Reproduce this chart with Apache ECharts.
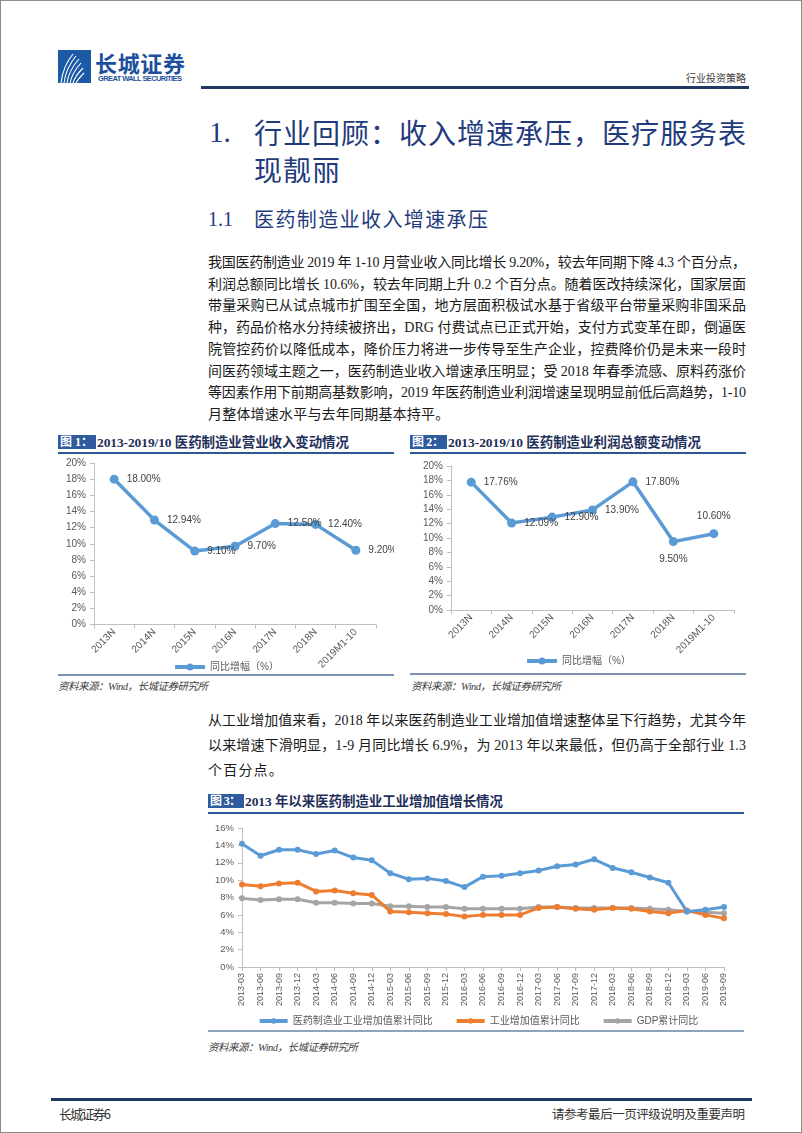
<!DOCTYPE html>
<html><head><meta charset="utf-8">
<script src="https://cdn.jsdelivr.net/npm/echarts@6/dist/echarts.min.js"></script>
<style>
html,body{margin:0;padding:0;background:#fff;}
#page{position:relative;width:802px;height:1133px;box-sizing:border-box;border:1px solid #8c8c8c;overflow:hidden;font-family:"Liberation Serif","Noto Sans CJK SC",serif;color:#1a1a1a;}
.t{position:absolute;white-space:nowrap;}
.rule{position:absolute;}
.chart{position:absolute;}
</style></head>
<body><div id="page">
<svg class="rule" style="left:57px;top:49px" width="33" height="33" viewBox="0 0 33 33">
  <rect x="0" y="0" width="33" height="33" fill="#1d5aa6"/>
  <g fill="none" stroke="#ffffff" stroke-width="1.1">
    <path d="M3 33 Q5 16 15 4"/>
    <path d="M6 33 Q8 18 18 6"/>
    <path d="M9 33 Q11 20 21 9"/>
    <path d="M12 33 Q14 23 23 13"/>
    <path d="M15 33 Q17 26 25 18"/>
    <path d="M18 33 Q20 29 26 23"/>
  </g>
</svg>
<div class="rule" style="left:200px;top:85px;width:548px;height:3px;background:#1f3864"></div>
<div class="rule" style="left:57px;top:451px;width:336px;height:2px;background:#2f5597"></div>
<div class="rule" style="left:409px;top:451px;width:336px;height:2px;background:#2f5597"></div>
<div class="rule" style="left:57px;top:673px;width:336px;height:2px;background:#7d92b3"></div>
<div class="rule" style="left:409px;top:672px;width:336px;height:2px;background:#7d92b3"></div>
<div class="rule" style="left:207px;top:811px;width:536px;height:2px;background:#2f5597"></div>
<div class="rule" style="left:207px;top:1029px;width:536px;height:2px;background:#8fa3bd"></div>
<div class="rule" style="left:50px;top:1097px;width:701px;height:3px;background:#1f3864"></div>
<div class="rule" style="left:57px;top:434px;width:38px;height:14px;background:#2e5c9e"></div>
<div class="rule" style="left:409px;top:434px;width:37px;height:14px;background:#2e5c9e"></div>
<div class="rule" style="left:207px;top:793px;width:36px;height:14px;background:#2e5c9e"></div>
<div id="c1" class="chart" style="left:57px;top:455px;width:336px;height:216px"></div>
<div id="c2" class="chart" style="left:409px;top:455px;width:336px;height:216px"></div>
<div id="c3" class="chart" style="left:207px;top:815px;width:540px;height:214px"></div>
</div>
<script>
// ---------- data ----------
const years = ['2013N','2014N','2015N','2016N','2017N','2018N','2019M1-10'];
const revenueGrowth = [18.00, 12.94, 9.10, 9.70, 12.50, 12.40, 9.20];
const profitGrowth  = [17.76, 12.09, 12.90, 13.90, 17.80, 9.50, 10.60];
const quarters = ['2013-03','2013-06','2013-09','2013-12','2014-03','2014-06','2014-09','2014-12',
  '2015-03','2015-06','2015-09','2015-12','2016-03','2016-06','2016-09','2016-12',
  '2017-03','2017-06','2017-09','2017-12','2018-03','2018-06','2018-09','2018-12',
  '2019-03','2019-06','2019-09'];
const pharmaVA   = [14.2,12.8,13.5,13.5,13.0,13.4,12.6,12.3,10.8,10.1,10.2,9.9,9.2,10.4,10.5,10.8,11.1,11.6,11.8,12.4,11.4,10.9,10.3,9.7,6.4,6.6,6.9];
const industryVA = [9.5,9.3,9.6,9.7,8.7,8.8,8.5,8.3,6.4,6.3,6.2,6.1,5.8,6.0,6.0,6.0,6.8,6.9,6.7,6.6,6.8,6.7,6.4,6.2,6.5,6.0,5.6];
const gdpGrowth  = [7.9,7.7,7.8,7.8,7.4,7.4,7.3,7.3,7.0,7.0,6.9,6.9,6.7,6.7,6.7,6.7,6.9,6.9,6.8,6.8,6.8,6.8,6.7,6.6,6.4,6.3,6.2];
const seriesNames1 = ['同比增幅（%）'];
const seriesNames3 = ['医药制造业工业增加值累计同比','工业增加值累计同比','GDP累计同比'];

// ---------- text ----------
const page = document.getElementById('page');
function fit(d, w){
  d.style.letterSpacing = '0px';
  const nat = d.getBoundingClientRect().width;
  const n = Array.from(d.textContent).length;
  if (n > 1) d.style.letterSpacing = ((w - nat)/(n-1)) + 'px';
}
function txt(s, x, cy, fs, o){
  o = o || {};
  const d = document.createElement('div');
  d.className = 't';
  d.textContent = s;
  const lh = Math.round(fs*1.4);
  d.style.cssText = 'left:'+x+'px;top:'+(cy-lh/2)+'px;font-size:'+fs+'px;line-height:'+lh+'px;'+(o.css||'');
  page.appendChild(d);
  if (o.w) fit(d, o.w);
  if (o.ls !== undefined) d.style.letterSpacing = o.ls + 'px';
  return d;
}
const SANS = 'font-family:"Noto Sans CJK SC",sans-serif;';
// header
txt('长城证券', 94, 61, 22, {w:90, css:SANS+'font-weight:bold;color:#1e4f9c;'});
txt('GREAT WALL SECURITIES', 97, 77, 7.5, {w:84, css:'font-family:"Liberation Sans",sans-serif;font-weight:bold;color:#1e4f9c;'});
txt('行业投资策略', 685, 77, 10, {w:60, css:SANS+'color:#404040;'});
// headings
const H1C = 'color:#1f3b7c;';
txt('1.', 208, 131, 29, {css:H1C});
const h1 = txt('行业回顾：收入增速承压，医疗服务表', 253, 131, 28, {w:492, css:SANS+H1C});
txt('现靓丽', 253, 168, 28, {ls:parseFloat(h1.style.letterSpacing), css:SANS+H1C});
txt('1.1', 207, 218, 20, {css:H1C});
txt('医药制造业收入增速承压', 253, 218, 20, {w:234, css:SANS+H1C});
// paragraph 1
const para1 = [
 '我国医药制造业 2019 年 1-10 月营业收入同比增长 9.20%，较去年同期下降 4.3 个百分点，',
 '利润总额同比增长 10.6%，较去年同期上升 0.2 个百分点。随着医改持续深化，国家层面',
 '带量采购已从试点城市扩围至全国，地方层面积极试水基于省级平台带量采购非国采品',
 '种，药品价格水分持续被挤出，DRG 付费试点已正式开始，支付方式变革在即，倒逼医',
 '院管控药价以降低成本，降价压力将进一步传导至生产企业，控费降价仍是未来一段时',
 '间医药领域主题之一，医药制造业收入增速承压明显；受 2018 年春季流感、原料药涨价',
 '等因素作用下前期高基数影响，2019 年医药制造业利润增速呈现明显前低后高趋势，1-10',
 '月整体增速水平与去年同期基本持平。'
];
para1.forEach((s,i)=>{
  txt(s, 207, 262 + i*21.7, 14, i < para1.length-1 ? {w:538} : {ls:0.2});
});
const para2 = [
 '从工业增加值来看，2018 年以来医药制造业工业增加值增速整体呈下行趋势，尤其今年',
 '以来增速下滑明显，1-9 月同比增长 6.9%，为 2013 年以来最低，但仍高于全部行业 1.3',
 '个百分点。'
];
para2.forEach((s,i)=>{
  txt(s, 207, 720 + i*25, 14, i < para2.length-1 ? {w:538} : {ls:1.2});
});
// figure titles
const FT = 'font-weight:bold;color:#1f2f5a;';
txt('图 1：', 59, 441, 12, {w:33, css:'font-weight:bold;color:#fff;'});
txt('2013-2019/10 医药制造业营业收入变动情况', 96, 441, 13.5, {w:252, css:FT});
txt('图 2：', 411, 441, 12, {w:32, css:'font-weight:bold;color:#fff;'});
txt('2013-2019/10 医药制造业利润总额变动情况', 447, 441, 13.5, {w:253, css:FT});
txt('图 3：', 209, 800, 12, {w:31, css:'font-weight:bold;color:#fff;'});
txt('2013 年以来医药制造业工业增加值增长情况', 244, 800, 13.5, {w:258, css:FT});
// sources
const SRC = 'font-style:italic;color:#404040;';
txt('资料来源：Wind，长城证券研究所', 57, 685, 10.5, {w:150, css:SRC});
txt('资料来源：Wind，长城证券研究所', 410, 685, 10.5, {w:150, css:SRC});
txt('资料来源：Wind，长城证券研究所', 207, 1046, 10.5, {w:150, css:SRC});
// footer
txt('长城证券6', 58, 1113, 13, {w:52, css:SANS+'color:#333;'});
txt('请参考最后一页评级说明及重要声明', 551, 1113, 12.5, {w:193, css:SANS+'color:#333;'});

// ---------- charts ----------
const AX = '#bfbfbf', LBL = '#595959';
const FONT = '"Liberation Sans","Noto Sans CJK SC",sans-serif';
function yAxisCfg(max, fs){
  return {type:'value', min:0, max:max, interval:2,
    axisLine:{show:true, lineStyle:{color:AX}},
    axisTick:{show:true, length:4, lineStyle:{color:AX}},
    splitLine:{show:false},
    axisLabel:{formatter:'{value}%', color:LBL, fontSize:fs, fontFamily:FONT, margin:8}};
}
function annualChart(id, grid, legendTop, values, posMap){
  const c = echarts.init(document.getElementById(id), null, {renderer:'canvas'});
  c.setOption({
    animation:false,
    textStyle:{fontFamily:FONT},
    grid:grid,
    legend:{top:legendTop, left:'center', itemWidth:30, itemHeight:9, itemGap:10,
      lineStyle:{width:4},
      textStyle:{color:LBL, fontSize:10, fontFamily:FONT}, data:seriesNames1},
    xAxis:{type:'category', data:years, boundaryGap:true,
      axisLine:{lineStyle:{color:AX}},
      axisTick:{show:true, length:4, lineStyle:{color:AX}},
      axisLabel:{rotate:45, interval:0, color:LBL, fontSize:10, fontFamily:FONT, margin:6}},
    yAxis:yAxisCfg(20, 10),
    series:[{name:seriesNames1[0], type:'line', symbol:'circle', symbolSize:9,
      lineStyle:{width:3.5, color:'#5b9bd5'}, itemStyle:{color:'#5b9bd5'},
      data:values.map((v,i)=>posMap[i] ? {value:v, label:{position:posMap[i]}} : v),
      label:{show:true, position:'right', distance:8, color:'#404040', fontSize:10, fontFamily:FONT,
        formatter:p=>p.value.toFixed(2)+'%'}}]
  });
}
annualChart('c1', {left:36, top:7, width:282, height:162}, 201, revenueGrowth, {});
annualChart('c2', {left:41, top:10, width:283, height:144}, 195, profitGrowth, {5:'bottom', 6:'top'});

const c3 = echarts.init(document.getElementById('c3'), null, {renderer:'canvas'});
const colors3 = ['#5b9bd5','#ed7d31','#a5a5a5'];
c3.setOption({
  animation:false,
  textStyle:{fontFamily:FONT},
  color:colors3,
  grid:{left:34, top:12, width:482, height:139},
  legend:{top:195, left:'center', itemWidth:28, itemHeight:7, itemGap:22,
    lineStyle:{width:4},
    textStyle:{color:LBL, fontSize:10, fontFamily:FONT}, data:seriesNames3},
  xAxis:{type:'category', data:quarters, boundaryGap:false,
    axisLine:{lineStyle:{color:AX}},
    axisTick:{show:true, length:4, lineStyle:{color:AX}},
    axisLabel:{rotate:90, interval:0, color:LBL, fontSize:9, fontFamily:FONT, margin:6}},
  yAxis:yAxisCfg(16, 9.5),
  series:[pharmaVA, industryVA, gdpGrowth].map((d,i)=>({
    name:seriesNames3[i], type:'line', data:d, symbol:'circle', symbolSize:6, z:3-i,
    lineStyle:{width:3, color:colors3[i]}, itemStyle:{color:colors3[i]}
  }))
});
</script>
</body></html>
